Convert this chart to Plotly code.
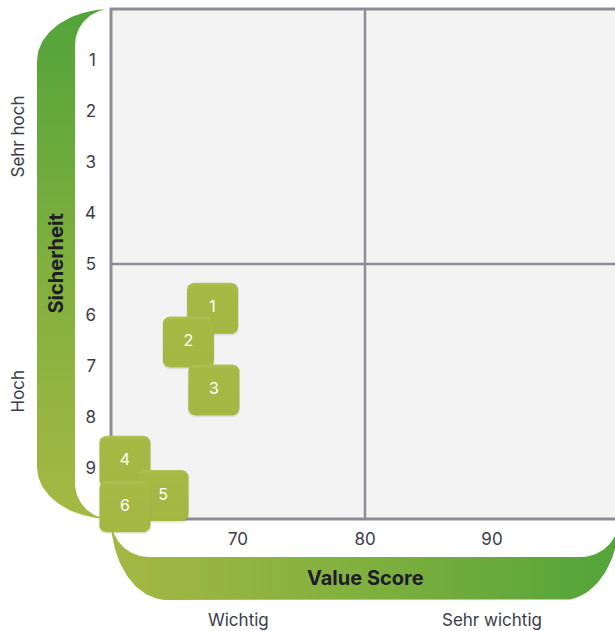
import numpy as np
import plotly.graph_objects as go

# ---------------- data ----------------
ids = ["1", "2", "3", "4", "5", "6"]
value_score = [68.0, 66.1, 68.1, 61.1, 64.1, 61.1]
sicherheit = [5.87, 6.53, 7.47, 8.87, 9.54, 9.76]

x_tickvals = [70, 80, 90]
y_tickvals = [1, 2, 3, 4, 5, 6, 7, 8, 9]
x_zone_labels = ["Wichtig", "Sehr wichtig"]
x_zone_pos = [70, 90]
y_zone_labels = ["Sehr hoch", "Hoch"]
y_zone_pos = [2.5, 7.5]
x_split = 80
y_split = 5
x_lim = [60, 100]
y_lim = [0, 10]
x_title = "Value Score"
y_title = "Sicherheit"

# ---------------- layout geometry (pixels) ----------------
W, H = 615, 631
PL, PR, PT, PB = 111, 619, 9, 519      # plot area edges
DL, DR, DT, DB = 80, 615, 0, 545       # data subplot domain (room for overhanging tiles)
sx = (PR - PL) / (x_lim[1] - x_lim[0])
sy = (PB - PT) / (y_lim[1] - y_lim[0])
xr = [x_lim[0] + (DL - PL) / sx, x_lim[0] + (DR - PL) / sx]
yr = [y_lim[1] + (DB - PB) / sy, y_lim[0] - (PT - DT) / sy]

TXT = "#3c3b48"
DARK = "#1e1c2b"
GRID = "#8e8b96"
FONT = "Inter"


def arc(cx, cy, rx, ry, t0, t1, n=40):
    t = np.linspace(t0, t1, n)
    return list(cx + rx * np.cos(t)), list(cy + ry * np.sin(t))


def poly(parts):
    xs, ys = [], []
    for px, py in parts:
        xs += px
        ys += py
    return xs + [xs[0]], ys + [ys[0]]


fig = go.Figure()

# ---- left (vertical) green bracket ----
ro_x, ro_y, ri = 74, 52, 36
left_band = poly([
    arc(PL, PT + ro_y, ro_x, ro_y, -np.pi / 2, -np.pi),
    arc(PL, PB - ro_y, ro_x, ro_y, np.pi, np.pi / 2),
    arc(PL, PB - ri, ri, ri, np.pi / 2, np.pi),
    arc(PL, PT + ri, ri, ri, -np.pi, -np.pi / 2),
])
fig.add_trace(go.Scatter(
    x=left_band[0], y=left_band[1], mode="lines", fill="toself",
    line=dict(width=0), hoverinfo="skip", showlegend=False,
    fillgradient=dict(type="vertical", start=PB, stop=PT,
                      colorscale=[[0, "#a6b844"], [0.5, "#80b03d"], [1, "#52a33a"]]),
    xaxis="x", yaxis="y"))

# ---- bottom (horizontal) green bracket ----
bo_x, bo_y, bi = 56, 81, 38
bottom_band = poly([
    arc(PL + bo_x, PB, bo_x, bo_y, np.pi, np.pi / 2),
    arc(PR - bo_x, PB, bo_x, bo_y, np.pi / 2, 0),
    arc(PR - bi, PB, bi, bi, 0, np.pi / 2),
    arc(PL + bi, PB, bi, bi, np.pi / 2, np.pi),
])
fig.add_trace(go.Scatter(
    x=bottom_band[0], y=bottom_band[1], mode="lines", fill="toself",
    line=dict(width=0), hoverinfo="skip", showlegend=False,
    fillgradient=dict(type="horizontal", start=PL, stop=PR,
                      colorscale=[[0, "#a6b744"], [0.5, "#80b03e"], [1, "#52a43a"]]),
    xaxis="x", yaxis="y"))

# ---- plot area background ----
fig.add_trace(go.Scatter(
    x=[x_lim[0], x_lim[1], x_lim[1], x_lim[0], x_lim[0]],
    y=[y_lim[0], y_lim[0], y_lim[1], y_lim[1], y_lim[0]],
    mode="lines", fill="toself", fillcolor="#f3f3f3", line=dict(width=0),
    hoverinfo="skip", showlegend=False, xaxis="x2", yaxis="y2"))

# ---- quadrant split lines ----
fig.add_trace(go.Scatter(
    x=[x_split, x_split, None, x_lim[0], x_lim[1]],
    y=[y_lim[0], y_lim[1], None, y_split, y_split],
    mode="lines", line=dict(color=GRID, width=2.5),
    hoverinfo="skip", showlegend=False, xaxis="x2", yaxis="y2"))

# ---- frame (top, left, bottom) ----
fig.add_trace(go.Scatter(
    x=[x_lim[1], x_lim[0], x_lim[0], x_lim[1]],
    y=[y_lim[0], y_lim[0], y_lim[1], y_lim[1]],
    mode="lines", line=dict(color=GRID, width=3),
    hoverinfo="skip", showlegend=False, xaxis="x2", yaxis="y2"))


# ---- rounded tiles ----
def tile(xc, yc, half, r, dxp=0.0, dyp=0.0):
    c = half - r
    px, py = [], []
    for (cx, cy, t0) in [(c, -c, -np.pi / 2), (c, c, 0), (-c, c, np.pi / 2), (-c, -c, np.pi)]:
        t = np.linspace(t0, t0 + np.pi / 2, 10)
        px += list(cx + r * np.cos(t))
        py += list(cy + r * np.sin(t))
    px.append(px[0])
    py.append(py[0])
    xs = [xc + (p + dxp) / sx for p in px]
    ys = [yc + (q + dyp) / sy for q in py]
    return xs, ys


HALF, RAD = 25.5, 7
for xv, yv in zip(value_score, sicherheit):
    shx, shy = tile(xv, yv, HALF + 0.6, RAD, 0, 1.0)
    fig.add_trace(go.Scatter(
        x=shx, y=shy, mode="lines", fill="toself", fillcolor="rgba(70,80,30,0.12)",
        line=dict(width=0), hoverinfo="skip", showlegend=False, xaxis="x2", yaxis="y2"))
    tx, ty = tile(xv, yv, HALF, RAD)
    fig.add_trace(go.Scatter(
        x=tx, y=ty, mode="lines", fill="toself", line=dict(width=0),
        fillgradient=dict(type="vertical", start=yv - HALF / sy, stop=yv + HALF / sy,
                          colorscale=[[0, "#b0c156"], [0.08, "#a7b945"], [1, "#a5b743"]]),
        hoverinfo="skip", showlegend=False, xaxis="x2", yaxis="y2"))

fig.add_trace(go.Scatter(
    x=value_score, y=sicherheit, mode="text", text=ids,
    textfont=dict(color="white", size=16, family=FONT), cliponaxis=False,
    showlegend=False, xaxis="x2", yaxis="y2"))

annotations = []
for lab, pos in zip(x_zone_labels, x_zone_pos):
    annotations.append(dict(text=lab, x=pos, xref="x2", y=1 - 620 / H, yref="paper",
                            xanchor="center", yanchor="middle",
                            showarrow=False, font=dict(size=17, color=TXT, family=FONT)))
for lab, pos in zip(y_zone_labels, y_zone_pos):
    annotations.append(dict(text=lab, y=pos, yref="y2", x=17 / W, xref="paper", textangle=-90,
                            xanchor="center", yanchor="middle",
                            showarrow=False, font=dict(size=17, color=TXT, family=FONT)))
annotations.append(dict(text="<b>%s</b>" % x_title, x=x_split, xref="x2", y=1 - 578 / H, yref="paper",
                        xanchor="center", yanchor="middle",
                        showarrow=False, font=dict(size=20, color=DARK, family=FONT)))
annotations.append(dict(text="<b>%s</b>" % y_title, y=y_split, yref="y2", x=55.5 / W, xref="paper",
                        xanchor="center", yanchor="middle",
                        textangle=-90, showarrow=False, font=dict(size=20, color=DARK, family=FONT)))

fig.update_layout(
    width=W, height=H, autosize=False,
    margin=dict(l=0, r=0, t=0, b=0, pad=0),
    paper_bgcolor="white", plot_bgcolor="rgba(0,0,0,0)",
    showlegend=False,
    xaxis=dict(domain=[0, 1], range=[0, W], visible=False, fixedrange=True),
    yaxis=dict(domain=[0, 1], range=[H, 0], visible=False, fixedrange=True),
    xaxis2=dict(domain=[DL / W, DR / W], range=xr, anchor="free", position=1 - PB / H,
                tickvals=x_tickvals, showgrid=False, zeroline=False, showline=False, ticks="",
                tickfont=dict(size=17, color=TXT, family=FONT), fixedrange=True,
                ticklabelstandoff=8),
    yaxis2=dict(domain=[1 - DB / H, 1 - DT / H], range=yr, anchor="free", position=PL / W,
                tickvals=y_tickvals, showgrid=False, zeroline=False, showline=False, ticks="",
                tickfont=dict(size=17, color=TXT, family=FONT), fixedrange=True,
                ticklabelstandoff=15),
    annotations=annotations,
)

fig.write_html("out.html", config={"displayModeBar": False},
               post_script="document.body.style.margin='0px';")
